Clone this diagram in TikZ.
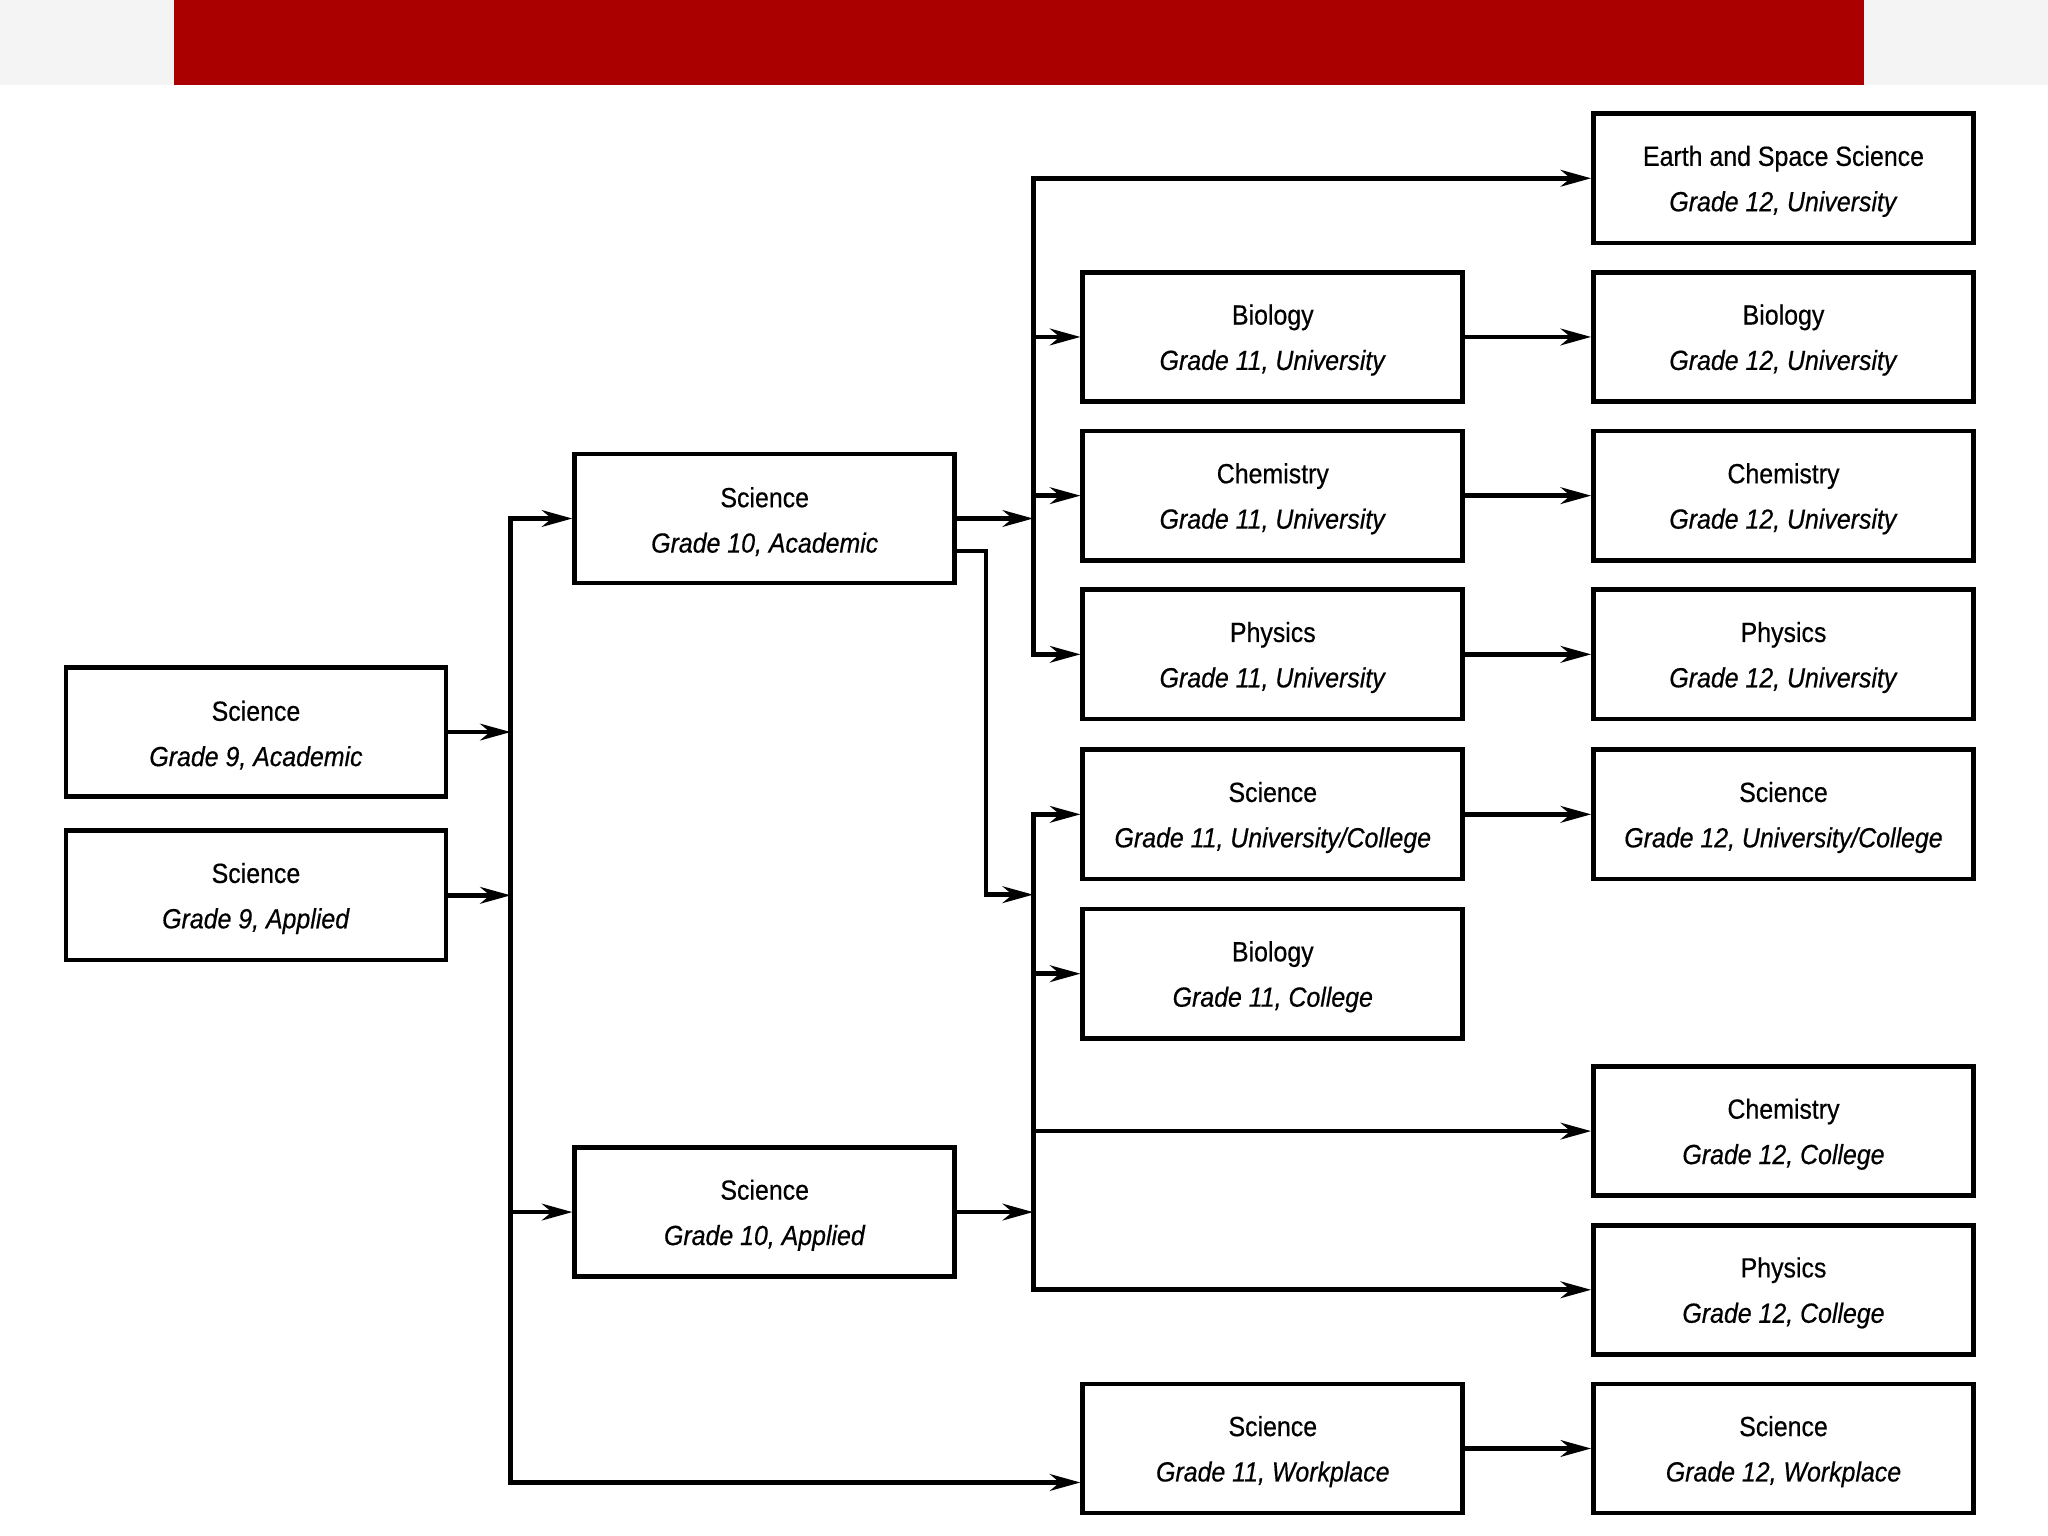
\documentclass[tikz,border=0pt]{standalone}
\usepackage{fontspec}
\setmainfont{Liberation Sans}[FakeStretch=0.9,FakeBold=0.5]
\usetikzlibrary{arrows.meta}
\definecolor{banner}{HTML}{AA0000}
\definecolor{paper}{HTML}{F4F4F4}
\tikzset{
 course/.style={draw,line width=1.7pt,fill=white,minimum width=1.9in,minimum height=.646in,inner sep=0,align=center,font=\fontsize{10}{12}\selectfont},
 link/.style={line width=1.7pt,line cap=rect},
 feed/.style={link,-{Stealth[length=11pt,width=6pt,inset=3.5pt]}}
}
\newcommand{\subj}[2]{\rule{0pt}{9.5pt}#1\\[4.4pt]\textit{#2}}

\begin{document}
\begin{tikzpicture}[x=0.0065306in,y=0.0065306in]
\path[use as bounding box] (0,0) rectangle (1568,1176);
\fill[paper] (0,1111) rectangle (1568,1176);
\fill[banner] (133,1111) rectangle (1427,1176);
% grade 9
\node[course] (g9a) at (196,615.5) {\subj{Science}{Grade 9, Academic}};
\node[course] (g9p) at (196,490.5) {\subj{Science}{Grade 9, Applied}};
% grade 10
\node[course] (g10a) at (585.5,779) {\subj{Science}{Grade 10, Academic}};
\node[course] (g10p) at (585.5,248) {\subj{Science}{Grade 10, Applied}};
% grade 11
\node[course] (bio11u) at (974.5,918) {\subj{Biology}{Grade 11, University}};
\node[course] (chem11u) at (974.5,796.5) {\subj{Chemistry}{Grade 11, University}};
\node[course] (phys11u) at (974.5,675) {\subj{Physics}{Grade 11, University}};
\node[course] (sci11uc) at (974.5,552.5) {\subj{Science}{Grade 11, University/College}};
\node[course] (bio11c) at (974.5,430.5) {\subj{Biology}{Grade 11, College}};
\node[course] (sci11w) at (974.5,67) {\subj{Science}{Grade 11, Workplace}};
% grade 12
\node[course] (ess12u) at (1365.5,1039.5) {\subj{Earth and Space Science}{Grade 12, University}};
\node[course] (bio12u) at (1365.5,918) {\subj{Biology}{Grade 12, University}};
\node[course] (chem12u) at (1365.5,796.5) {\subj{Chemistry}{Grade 12, University}};
\node[course] (phys12u) at (1365.5,675) {\subj{Physics}{Grade 12, University}};
\node[course] (sci12uc) at (1365.5,552.5) {\subj{Science}{Grade 12, University/College}};
\node[course] (chem12c) at (1365.5,310) {\subj{Chemistry}{Grade 12, College}};
\node[course] (phys12c) at (1365.5,188.5) {\subj{Physics}{Grade 12, College}};
\node[course] (sci12w) at (1365.5,67) {\subj{Science}{Grade 12, Workplace}};
% trunks
\coordinate (t9) at (391,0);
\coordinate (t10) at (791,0);
\coordinate (jog) at (755,491);
\coordinate (wp) at ([yshift=-.17in]sci11w.west);
% grade 9 -> grade 10 and workplace
\draw[feed] (g9a.east) -- (g9a -| t9);
\draw[feed] (g9p.east) -- (g9p -| t9);
\draw[feed] (t9 |- wp) -- (t9 |- g10a) -- (g10a.west);
\draw[feed] (t9 |- g10p) -- (g10p.west);
\draw[feed] (t9 |- wp) -- (wp);
% grade 10 -> grade 11/12
\draw[feed] (g10a.east) -- (g10a -| t10);
\draw[feed] ([yshift=-.163in]g10a.east) -| (jog) -- (jog -| t10);
\draw[feed] (g10p.east) -- (g10p -| t10);
\draw[feed] (t10 |- phys11u) -- (t10 |- ess12u) -- (ess12u.west);
\foreach \c in {bio11u,chem11u,phys11u}
  \draw[feed] (t10 |- \c) -- (\c.west);
\draw[link] (t10 |- sci11uc) -- (t10 |- phys12c);
\foreach \c in {sci11uc,bio11c,chem12c,phys12c}
  \draw[feed] (t10 |- \c) -- (\c.west);
% grade 11 -> grade 12
\foreach \a/\b in {bio11u/bio12u,chem11u/chem12u,phys11u/phys12u,sci11uc/sci12uc,sci11w/sci12w}
  \draw[feed] (\a.east) -- (\b.west);
\end{tikzpicture}
\end{document}
